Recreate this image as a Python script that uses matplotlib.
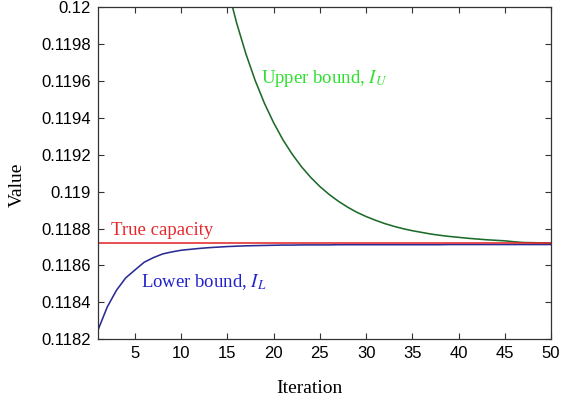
import numpy as np
import matplotlib
matplotlib.use("Agg")
import matplotlib.pyplot as plt

# values
true_capacity = 0.11872

iter_lower = list(range(1, 51))
lower_bound = [0.118249, 0.118374, 0.118465, 0.118532, 0.118575, 0.118617, 0.118642,
               0.118662, 0.118673, 0.118682, 0.118687, 0.118692, 0.118696, 0.118699,
               0.118702, 0.118704, 0.118706, 0.118707, 0.118708, 0.118709, 0.118710,
               0.118710, 0.118711, 0.118711, 0.118711, 0.118711, 0.118712, 0.118712,
               0.118712, 0.118712, 0.118712, 0.118712, 0.118712, 0.118712, 0.118712,
               0.118712, 0.118712, 0.118712, 0.118713, 0.118713, 0.118713, 0.118713,
               0.118713, 0.118713, 0.118713, 0.118713, 0.118713, 0.118713, 0.118713,
               0.118713]

iter_upper = list(range(14, 51))
upper_bound = [0.120336, 0.120110, 0.119915, 0.119748, 0.119604, 0.119480, 0.119374,
               0.119282, 0.119204, 0.119136, 0.119078, 0.119028, 0.118985, 0.118948,
               0.118916, 0.118888, 0.118865, 0.118845, 0.118827, 0.118812, 0.118799,
               0.118788, 0.118779, 0.118770, 0.118763, 0.118757, 0.118752, 0.118747,
               0.118743, 0.118739, 0.118736, 0.118733, 0.118728, 0.118724, 0.118723,
               0.118722, 0.118721]

xticks = [5, 10, 15, 20, 25, 30, 35, 40, 45, 50]
yticks = [0.1182, 0.1184, 0.1186, 0.1188, 0.119, 0.1192, 0.1194, 0.1196, 0.1198, 0.12]
ytick_labels = ["0.1182", "0.1184", "0.1186", "0.1188", "0.119",
                "0.1192", "0.1194", "0.1196", "0.1198", "0.12"]

plt.rcParams["mathtext.fontset"] = "stix"

fig = plt.figure(figsize=(5.62, 4.01), dpi=100)
ax = fig.add_axes([0.1744, 0.1546, 0.8060, 0.8267])

ax.plot(iter_upper, upper_bound, color="#1e6b2a", lw=1.15)
ax.plot(iter_lower, lower_bound, color="#2b2b96", lw=1.15)
ax.axhline(true_capacity, color="#e5282c", lw=1.15)

serif = ["Liberation Serif", "DejaVu Serif"]
ax.text(2.4, 0.118766, "True capacity", color="#e5282c", fontsize=13.5, family=serif)
ax.text(5.7, 0.118481, r"Lower bound, $I_L$", color="#2222cc", fontsize=13.5, family=serif)
ax.text(18.6, 0.119591, r"Upper bound, $I_U$", color="#2ee02e", fontsize=13.5, family=serif)

ax.set_xlim(1, 50)
ax.set_ylim(0.1182, 0.12)
ax.set_xticks(xticks)
ax.set_yticks(yticks)
ax.set_yticklabels(ytick_labels)

ax.tick_params(direction="in", top=True, right=True, length=4.5, width=0.8,
               labelsize=12, pad=5, color="#333333")
for lab in ax.get_xticklabels() + ax.get_yticklabels():
    lab.set_family(["Liberation Sans", "DejaVu Sans"])
for s in ax.spines.values():
    s.set_color("#333333")
    s.set_linewidth(0.9)

ax.set_xlabel("Iteration", fontsize=14, family=serif)
ax.set_ylabel("Value", fontsize=14, family=serif)
ax.xaxis.set_label_coords(0.466, -0.124)
ax.yaxis.set_label_coords(-0.16, 0.465)

fig.savefig("out.png", dpi=100)
